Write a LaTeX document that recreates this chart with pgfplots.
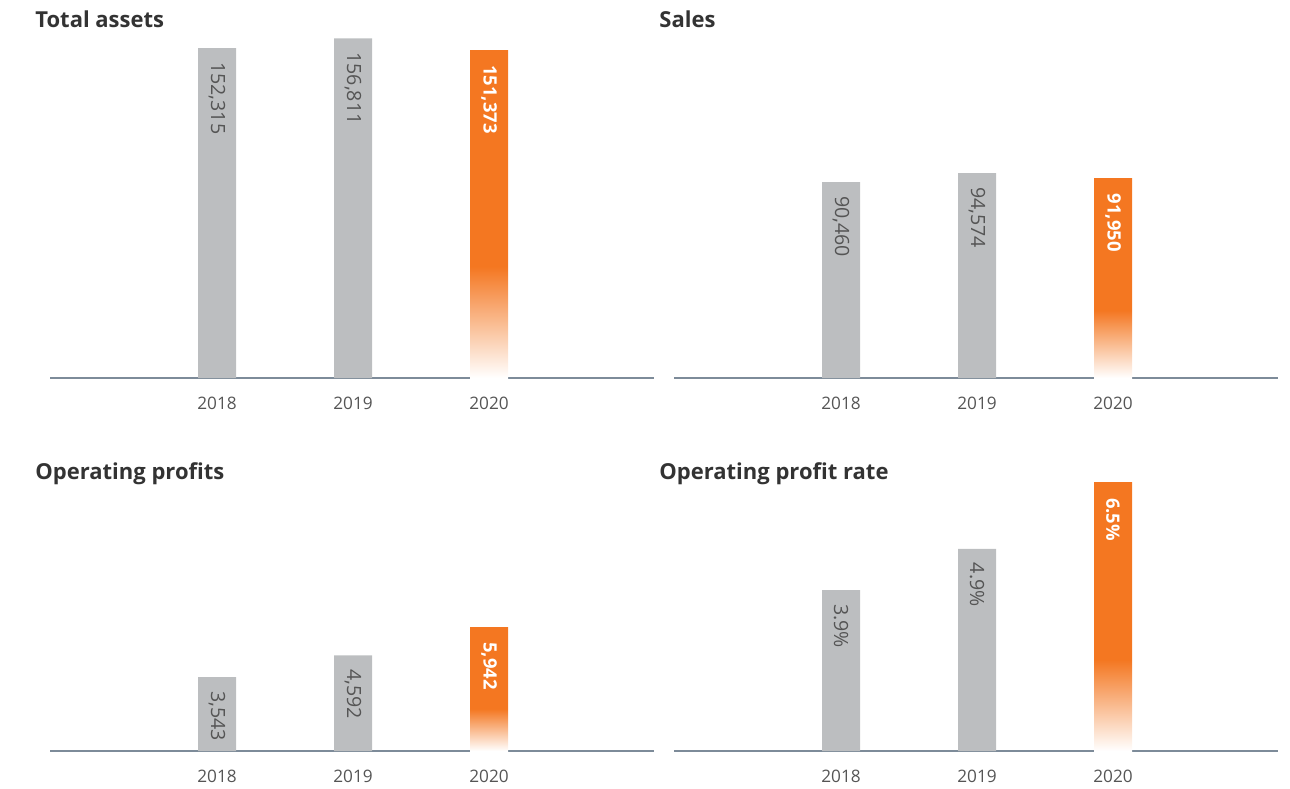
\documentclass[border=0pt]{standalone}
\usepackage{fontspec}
\setmainfont{Open Sans}
\usepackage{pgfplots}
\pgfplotsset{compat=1.18}

\definecolor{barorange}{HTML}{F47721}
\definecolor{bargray}{HTML}{BCBEC0}
\definecolor{baseline}{HTML}{7D8B99}
\definecolor{labelgray}{HTML}{555555}
\definecolor{titlegray}{HTML}{333333}
\pgfdeclareverticalshading{orangefade}{100bp}{color(0bp)=(white); color(25bp)=(white); color(42bp)=(barorange); color(100bp)=(barorange)}

\pgfplotsset{
  kpi/.style={
    scale only axis, width=302pt, height=170pt,
    xmin=-1.228, xmax=3.213, ymin=0,
    axis x line=bottom, axis y line=none,
    x axis line style={draw=baseline, line width=0.6pt, -},
    xtick={0,1,2}, xticklabels={2018,2019,2020},
    major tick length=0pt,
    xticklabel style={font=\fontsize{8.6}{10}\selectfont, text=labelgray, yshift=-6pt},
    ytick=\empty,
    ybar, bar width=19pt, bar shift=0pt,
    clip=false,
    point meta=explicit symbolic,
    nodes near coords,
  },
  graybar/.style={draw=none, fill=bargray,
    every node near coord/.append style={yshift=-3.5pt, rotate=-90, anchor=west,
      font=\fontsize{9.8}{12}\selectfont, text=labelgray}},
  orangebar/.style={draw=none, shade, shading=orangefade,
    every node near coord/.append style={yshift=-4pt, rotate=-90, anchor=west,
      font=\fontsize{9.2}{12}\selectfont\bfseries, text=white}},
}

\begin{document}
\begin{tikzpicture}
\useasboundingbox (0,0) rectangle (645pt,394pt);

\begin{axis}[kpi, at={(25pt,205pt)}, ymax=157000]
\addplot[graybar] table[x=x, y=y, meta=lab, row sep=\\] {x y lab \\ 0 152315 152,315 \\ 1 156811 156,811 \\};
\addplot[orangebar] table[x=x, y=y, meta=lab, row sep=\\] {x y lab \\ 2 151373 151,373 \\};
\end{axis}

\begin{axis}[kpi, at={(337pt,205pt)}, ymax=157000]
\addplot[graybar] table[x=x, y=y, meta=lab, row sep=\\] {x y lab \\ 0 90460 90,460 \\ 1 94574 94,574 \\};
\addplot[orangebar] table[x=x, y=y, meta=lab, row sep=\\] {x y lab \\ 2 91950 91,950 \\};
\end{axis}

\begin{axis}[kpi, at={(25pt,18.5pt)}, ymax=16320]
\addplot[graybar] table[x=x, y=y, meta=lab, row sep=\\] {x y lab \\ 0 3543 3,543 \\ 1 4592 4,592 \\};
\addplot[orangebar] table[x=x, y=y, meta=lab, row sep=\\] {x y lab \\ 2 5942 5,942 \\};
\end{axis}

\begin{axis}[kpi, at={(337pt,18.5pt)}, ymax=8.245]
\addplot[graybar] table[x=x, y=y, meta=lab, row sep=\\] {x y lab \\ 0 3.9 3.9\% \\ 1 4.9 4.9\% \\};
\addplot[orangebar] table[x=x, y=y, meta=lab, row sep=\\] {x y lab \\ 2 6.5 6.5\% \\};
\end{axis}

\begin{scope}[every node/.style={anchor=base west, inner sep=0pt, text=titlegray,
    font=\fontsize{11}{13}\selectfont\bfseries}]
\node at (17.5pt,380pt) {Total assets};
\node at (329.5pt,380pt) {Sales};
\node at (17.5pt,154pt) {Operating profits};
\node at (329.5pt,154pt) {Operating profit rate};
\end{scope}
\end{tikzpicture}
\end{document}
